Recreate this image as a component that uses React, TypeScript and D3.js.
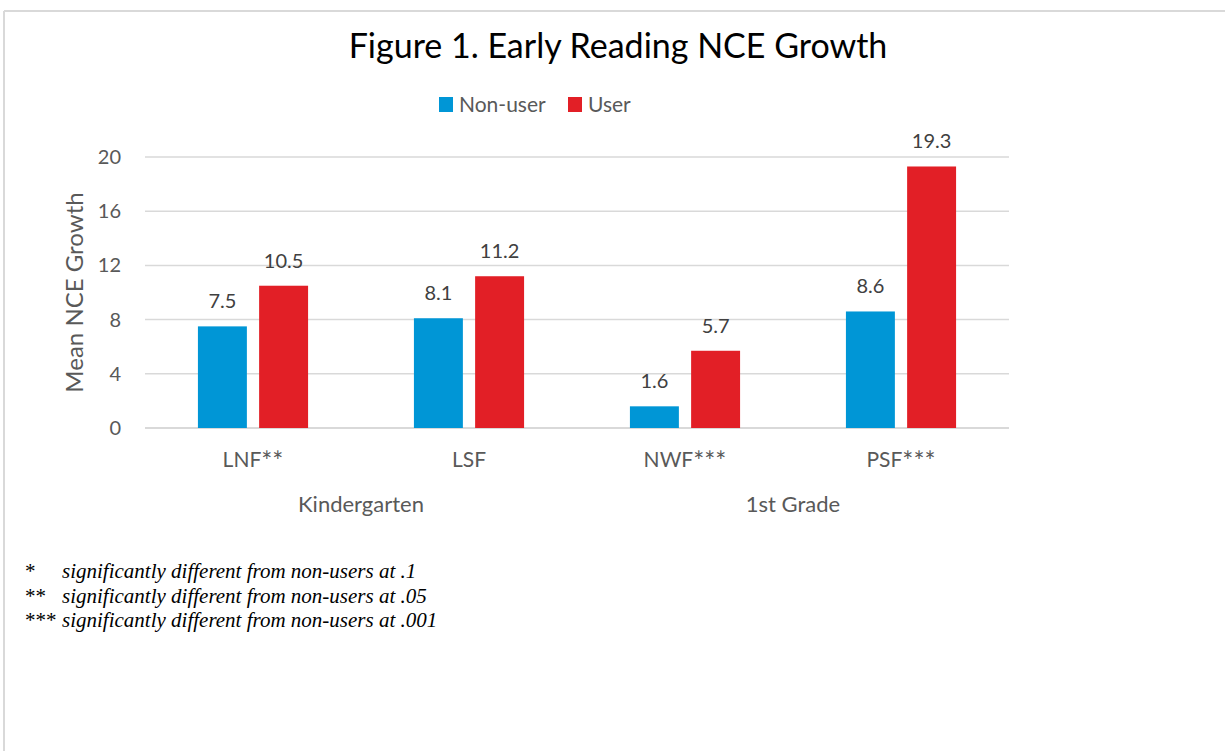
import React from 'react';
import * as d3 from 'd3';

const categories = ['LNF**', 'LSF', 'NWF***', 'PSF***'];
const groups = [
  { label: 'Kindergarten', members: ['LNF**', 'LSF'] },
  { label: '1st Grade', members: ['NWF***', 'PSF***'] },
];
const seriesNames = ['Non-user', 'User'];
const nonUser = [7.5, 8.1, 1.6, 8.6];
const user = [10.5, 11.2, 5.7, 19.3];
const yTicks = [0, 4, 8, 12, 16, 20];
const footnotes = [
  { mark: '*', text: 'significantly different from non-users at .1' },
  { mark: '**', text: 'significantly different from non-users at .05' },
  { mark: '***', text: 'significantly different from non-users at .001' },
];

const colors: Record<string, string> = { 'Non-user': '#0096D6', User: '#E21F26' };
const font = 'Lato, "Open Sans", sans-serif';

// Lato draws asterisks small and raised; bump them up a bit like Calibri's
const CatLabel: React.FC<{ label: string }> = ({ label }) => {
  const m = label.match(/^([^*]*)(\**)$/);
  const base = m ? m[1] : label;
  const stars = m ? m[2] : '';
  return (
    <>
      {base}
      {stars && <tspan fontSize={26} dy={4}>{stars}</tspan>}
    </>
  );
};

const App: React.FC = () => {
  const width = 1225;
  const height = 751;
  const plot = { left: 145, right: 1009, top: 157, bottom: 428 };

  const x0 = d3.scaleBand<string>().domain(categories).range([plot.left, plot.right]).paddingInner(0.49).paddingOuter(0.245);
  const x1 = d3.scaleBand<string>().domain(seriesNames).range([0, x0.bandwidth()]).paddingInner(0.2);
  const y = d3.scaleLinear().domain([0, 20]).range([plot.bottom, plot.top]);

  const rows = categories.map((c, i) => ({ cat: c, values: [nonUser[i], user[i]] }));
  const step = x0.step();

  return (
    <svg width={width} height={height} style={{ position: 'absolute', left: 0, top: 0, background: '#fff' }}>
      <rect x={0} y={0} width={width} height={height} fill="#fff" />
      <line x1={4} y1={11} x2={width} y2={11} stroke="#d9d9d9" strokeWidth={2} />
      <line x1={4} y1={11} x2={4} y2={height} stroke="#d9d9d9" strokeWidth={2} />

      <text x={618} y={58} textAnchor="middle" fontFamily={font} fontSize={34} fill="#000">
        Figure 1. Early Reading NCE Growth
      </text>

      {/* legend */}
      <g fontFamily={font} fontSize={21} fill="#595959">
        <rect x={439} y={97} width={14} height={15} fill={colors['Non-user']} />
        <text x={459} y={112}>Non-user</text>
        <rect x={568} y={97} width={14} height={15} fill={colors['User']} />
        <text x={588} y={112}>User</text>
      </g>

      {/* gridlines */}
      {yTicks.map(t => (
        <line key={`g-${t}`} x1={plot.left} x2={plot.right} y1={y(t)} y2={y(t)} stroke="#d9d9d9" strokeWidth={t === 0 ? 2 : 1.5} />
      ))}
      {yTicks.map(t => (
        <text key={`t-${t}`} x={121} y={y(t)} dy="0.35em" textAnchor="end" fontFamily={font} fontSize={20} fill="#595959">
          {t}
        </text>
      ))}

      <text
        transform={`translate(83, ${(plot.top + plot.bottom) / 2}) rotate(-90)`}
        textAnchor="middle"
        fontFamily={font}
        fontSize={24}
        fill="#595959"
      >
        Mean NCE Growth
      </text>

      {/* bars */}
      {rows.map(r => (
        <g key={r.cat} transform={`translate(${x0(r.cat)},0)`}>
          {seriesNames.map((s, si) => (
            <g key={s}>
              <rect x={x1(s)} y={y(r.values[si])} width={x1.bandwidth()} height={y(0) - y(r.values[si])} fill={colors[s]} />
              <text
                x={(x1(s) || 0) + x1.bandwidth() / 2}
                y={y(r.values[si]) - 18}
                textAnchor="middle"
                fontFamily={font}
                fontSize={20}
                fill="#404040"
              >
                {r.values[si].toFixed(1)}
              </text>
            </g>
          ))}
          <text x={x0.bandwidth() / 2} y={467} textAnchor="middle" fontFamily={font} fontSize={21} fill="#595959">
            <CatLabel label={r.cat} />
          </text>
        </g>
      ))}

      {groups.map(g => {
        const first = (x0(g.members[0]) || 0) - (step - x0.bandwidth()) / 2;
        const last = (x0(g.members[g.members.length - 1]) || 0) + x0.bandwidth() + (step - x0.bandwidth()) / 2;
        return (
          <text key={g.label} x={(first + last) / 2} y={512} textAnchor="middle" fontFamily={font} fontSize={22} fill="#595959">
            {g.label}
          </text>
        );
      })}

      {/* footnotes */}
      {footnotes.map((f, i) => (
        <g key={f.mark} fontFamily='"Liberation Serif", "Times New Roman", serif' fontSize={21} fill="#000">
          <text x={25} y={578 + i * 24.5}>{f.mark}</text>
          <text x={62} y={578 + i * 24.5} fontStyle="italic">{f.text}</text>
        </g>
      ))}
    </svg>
  );
};

export default App;
